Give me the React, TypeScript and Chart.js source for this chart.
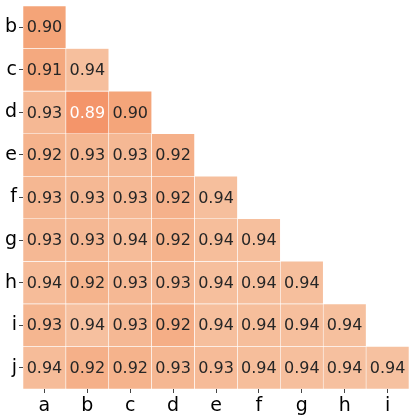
import React, { useEffect, useRef } from "react";
import { Chart, registerables } from "chart.js";

Chart.register(...registerables);

const colLabels = ["a", "b", "c", "d", "e", "f", "g", "h", "i"];
const rowLabels = ["b", "c", "d", "e", "f", "g", "h", "i", "j"];

// lower-triangular values, row r holds columns a..(r)
const rowB = [0.900];
const rowC = [0.908, 0.940];
const rowD = [0.930, 0.889, 0.902];
const rowE = [0.922, 0.928, 0.930, 0.918];
const rowF = [0.928, 0.930, 0.930, 0.920, 0.940];
const rowG = [0.930, 0.930, 0.936, 0.922, 0.938, 0.940];
const rowH = [0.936, 0.923, 0.930, 0.930, 0.940, 0.940, 0.940];
const rowI = [0.926, 0.942, 0.930, 0.915, 0.940, 0.938, 0.940, 0.941];
const rowJ = [0.936, 0.918, 0.922, 0.928, 0.934, 0.938, 0.940, 0.942, 0.943];
const rows = [rowB, rowC, rowD, rowE, rowF, rowG, rowH, rowI, rowJ];

const stops: [number, number[]][] = [
  [0.889, [244, 149, 106]],
  [0.9, [244, 164, 120]],
  [0.943, [246, 193, 160]],
];

function colorFor(v: number): string {
  if (v <= stops[0][0]) return `rgb(${stops[0][1].join(",")})`;
  for (let i = 1; i < stops.length; i++) {
    const [v1, c1] = stops[i];
    const [v0, c0] = stops[i - 1];
    if (v <= v1) {
      const t = (v - v0) / (v1 - v0);
      const c = c0.map((x, k) => Math.round(x + (c1[k] - x) * t));
      return `rgb(${c.join(",")})`;
    }
  }
  return `rgb(${stops[stops.length - 1][1].join(",")})`;
}

const FONT = "'DejaVu Sans', sans-serif";

const labelPlugin = {
  id: "cellLabels",
  afterDatasetsDraw(chart: any) {
    const ctx = chart.ctx;
    ctx.save();
    ctx.font = `16px ${FONT}`;
    ctx.textAlign = "center";
    ctx.textBaseline = "middle";
    chart.data.datasets.forEach((ds: any, di: number) => {
      const meta = chart.getDatasetMeta(di);
      meta.data.forEach((el: any, i: number) => {
        const v = rows[di][i];
        if (v === undefined) return;
        const { x, y, base } = el.getProps(["x", "y", "base"], true);
        ctx.fillStyle = v < 0.895 ? "#ffffff" : "#262626";
        ctx.fillText(v.toFixed(2), x, (y + base) / 2 + 1);
      });
    });
    ctx.restore();
  },
};

export default function App() {
  const ref = useRef<HTMLCanvasElement>(null);
  useEffect(() => {
    const datasets = rows.map((vals, r) => ({
      label: rowLabels[r],
      data: colLabels.map((_, c) => (c < vals.length ? [r + 0.5, r + 1.5] : null)),
      backgroundColor: colLabels.map((_, c) => (c < vals.length ? colorFor(vals[c]) : "transparent")),
      borderColor: "#ffffff",
      borderWidth: 0.6,
      borderSkipped: false,
      barPercentage: 1,
      categoryPercentage: 1,
      grouped: false,
    }));
    const chart = new Chart(ref.current!, {
      type: "bar",
      data: { labels: colLabels, datasets: datasets as any },
      options: {
        animation: false,
        responsive: false,
        layout: { padding: { top: 6, right: 6, left: 0, bottom: 0 } },
        plugins: { legend: { display: false }, tooltip: { enabled: false } },
        scales: {
          x: {
            type: "category",
            offset: true,
            grid: { display: true, drawOnChartArea: false, tickLength: 4, color: "#444", offset: false } as any,
            border: { display: false },
            ticks: { color: "#000", font: { family: FONT, size: 19 }, padding: 2 },
            afterFit: (s: any) => {
              s.height = 30;
              s.paddingLeft = 0;
              s.paddingRight = 0;
            },
          },
          y: {
            type: "linear",
            reverse: true,
            min: 0.5,
            max: 9.5,
            grid: { display: true, drawOnChartArea: false, tickLength: 4, color: "#444" },
            border: { display: false },
            afterBuildTicks: (s: any) => {
              s.ticks = rowLabels.map((_, i) => ({ value: i + 1 }));
            },
            ticks: {
              color: "#000",
              font: { family: FONT, size: 19 },
              padding: 2,
              callback: (v: any) => rowLabels[Math.round(Number(v)) - 1] ?? "",
            },
            afterFit: (s: any) => {
              s.width = 23;
              s.paddingTop = 0;
              s.paddingBottom = 0;
            },
          },
        },
      },
      plugins: [labelPlugin],
    });
    return () => chart.destroy();
  }, []);
  return (
    <div style={{ position: "absolute", left: 0, top: 0, width: 415, height: 419, background: "#fff" }}>
      <canvas ref={ref} width={415} height={419} style={{ display: "block" }} />
    </div>
  );
}
